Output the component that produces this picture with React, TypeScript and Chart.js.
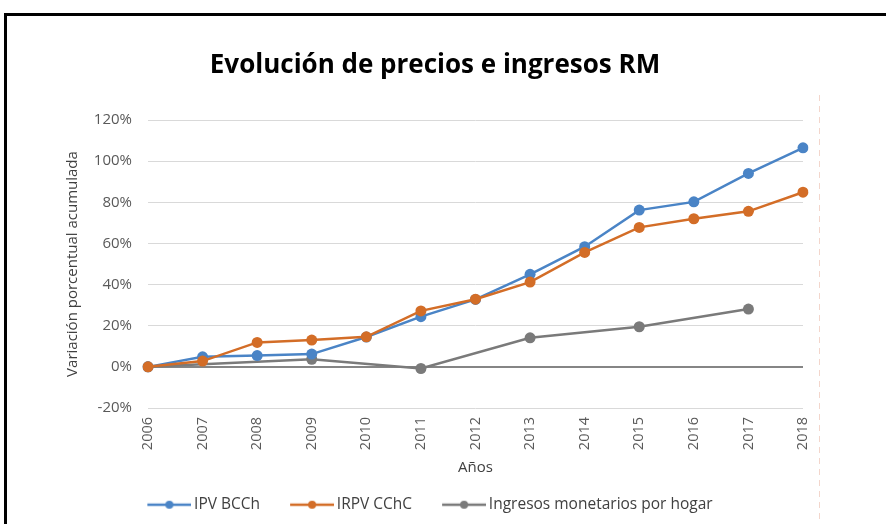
import React, { useEffect, useRef } from "react";
import { Chart, registerables } from "chart.js";

Chart.register(...registerables);

const years = ["2006", "2007", "2008", "2009", "2010", "2011", "2012", "2013", "2014", "2015", "2016", "2017", "2018"];
const ipvBCCh = [0, 4.9, 5.5, 6.2, 14.5, 24.4, 32.8, 45.0, 58.4, 76.2, 80.2, 94.0, 106.5];
const irpvCChC = [0, 2.8, 11.9, 13.0, 14.6, 27.2, 32.9, 41.2, 55.6, 67.8, 72.0, 75.6, 84.9];
const ingresosHogar = [0, null, null, 3.7, null, -0.8, null, 14.1, null, 19.5, null, 28.1, null];
const yTicks = [-20, 0, 20, 40, 60, 80, 100, 120];

const BLUE = "#4a84c6";
const ORANGE = "#d36d27";
const GRAY = "#7a7a7a";
const FONT = "'Open Sans', 'Noto Sans', sans-serif";

function legendIcon(color: string): HTMLCanvasElement {
  const c = document.createElement("canvas");
  c.width = 69;
  c.height = 12;
  const ctx = c.getContext("2d")!;
  ctx.strokeStyle = color;
  ctx.lineWidth = 2.5;
  ctx.beginPath();
  ctx.moveTo(25, 6);
  ctx.lineTo(69, 6);
  ctx.stroke();
  ctx.fillStyle = color;
  ctx.beginPath();
  ctx.arc(47, 6, 4, 0, Math.PI * 2);
  ctx.fill();
  return c;
}

const dashedLine = {
  id: "dashedLine",
  afterDraw(chart: any) {
    const ctx = chart.ctx;
    ctx.save();
    ctx.strokeStyle = "#f3d6cc";
    ctx.lineWidth = 1;
    ctx.setLineDash([6, 5]);
    ctx.beginPath();
    ctx.moveTo(819.5, 95);
    ctx.lineTo(819.5, 524);
    ctx.stroke();
    ctx.restore();
  },
};

export default function App() {
  const ref = useRef<HTMLCanvasElement>(null);
  useEffect(() => {
    document.body.style.margin = "0";
    const icons = [legendIcon(BLUE), legendIcon(ORANGE), legendIcon(GRAY)];
    const chart = new Chart(ref.current!, {
      type: "line",
      data: {
        labels: years,
        datasets: [
          {
            label: "IPV BCCh",
            data: ipvBCCh,
            borderColor: BLUE,
            backgroundColor: BLUE,
            borderWidth: 2.5,
            pointRadius: 5.5,
            pointBorderWidth: 0,
            order: 2,
          },
          {
            label: "IRPV CChC",
            data: irpvCChC,
            borderColor: ORANGE,
            backgroundColor: ORANGE,
            borderWidth: 2.5,
            pointRadius: 5.5,
            pointBorderWidth: 0,
            order: 1,
          },
          {
            label: "Ingresos monetarios por hogar",
            data: ingresosHogar,
            borderColor: GRAY,
            backgroundColor: GRAY,
            borderWidth: 2.5,
            pointRadius: 5.5,
            pointBorderWidth: 0,
            spanGaps: true,
            order: 3,
          },
        ],
      },
      options: {
        responsive: false,
        animation: false,
        devicePixelRatio: 1,
        layout: { padding: { top: 120, left: 4, right: 50, bottom: 1.5 } },
        plugins: {
          tooltip: { enabled: false },
          title: { display: false },
          legend: {
            position: "bottom",
            labels: {
              color: "#404040",
              font: { family: FONT, size: 15.5 },
              usePointStyle: true,
              pointStyleWidth: 59,
              boxHeight: 12,
              padding: 10,
              generateLabels: (chart: any) =>
                chart.data.datasets.map((ds: any, i: number) => ({
                  text: ds.label,
                  pointStyle: icons[i],
                  fillStyle: ds.borderColor,
                  strokeStyle: ds.borderColor,
                  lineWidth: 0,
                  hidden: false,
                  datasetIndex: i,
                  fontColor: "#404040",
                })),
            },
          },
        },
        scales: {
          x: {
            type: "category",
            offset: false,
            grid: { display: false, drawTicks: false },
            border: { display: false },
            ticks: {
              color: "#595959",
              font: { family: FONT, size: 14.5 },
              minRotation: 90,
              maxRotation: 90,
              padding: 9,
              autoSkip: false,
            },
            title: {
              display: true,
              text: "Años",
              color: "#404040",
              font: { family: FONT, size: 15 },
              padding: { top: 0, bottom: 10 },
            },
            afterFit: (s: any) => {
              s.height = 79;
            },
          },
          y: {
            position: "left",
            min: -20,
            max: 120,
            afterBuildTicks: (s: any) => {
              s.ticks = yTicks.map((v) => ({ value: v }));
            },
            grid: {
              drawTicks: false,
              color: (c: any) => (c.tick && c.tick.value === 0 ? "#858585" : "#d9d9d9"),
              lineWidth: (c: any) => (c.tick && c.tick.value === 0 ? 2 : 1),
            },
            border: { display: false },
            ticks: {
              color: "#595959",
              font: { family: FONT, size: 15 },
              padding: 16,
              callback: (v: any) => v + "%",
            },
            title: {
              display: true,
              text: "Variación porcentual acumulada",
              color: "#404040",
              font: { family: FONT, size: 15 },
              padding: { top: 60, bottom: 0 },
            },
            afterFit: (s: any) => {
              s.width = 144;
            },
          },
          y2: {
            position: "right",
            display: true,
            grid: { display: false, drawTicks: false },
            border: { display: false },
            ticks: { display: false },
            afterFit: (s: any) => {
              s.width = 33;
            },
          },
        },
      },
      plugins: [dashedLine],
    });
    return () => chart.destroy();
  }, []);

  return (
    <div style={{ position: "relative", width: 886, height: 524, overflow: "hidden", background: "#fff" }}>
      <div
        style={{
          position: "absolute",
          left: 4,
          top: 13,
          width: 1000,
          height: 1000,
          borderTop: "3px solid #000",
          borderLeft: "3px solid #000",
          boxSizing: "border-box",
        }}
      />
      <canvas ref={ref} width={886} height={524} style={{ position: "absolute", left: 0, top: 0 }} />
      <div
        style={{
          position: "absolute",
          left: 0,
          top: 48,
          width: 870,
          textAlign: "center",
          fontFamily: FONT,
          fontWeight: 700,
          fontSize: 26,
          lineHeight: "30px",
          color: "#000",
          whiteSpace: "nowrap",
        }}
      >
        Evolución de precios e ingresos RM
      </div>
    </div>
  );
}
